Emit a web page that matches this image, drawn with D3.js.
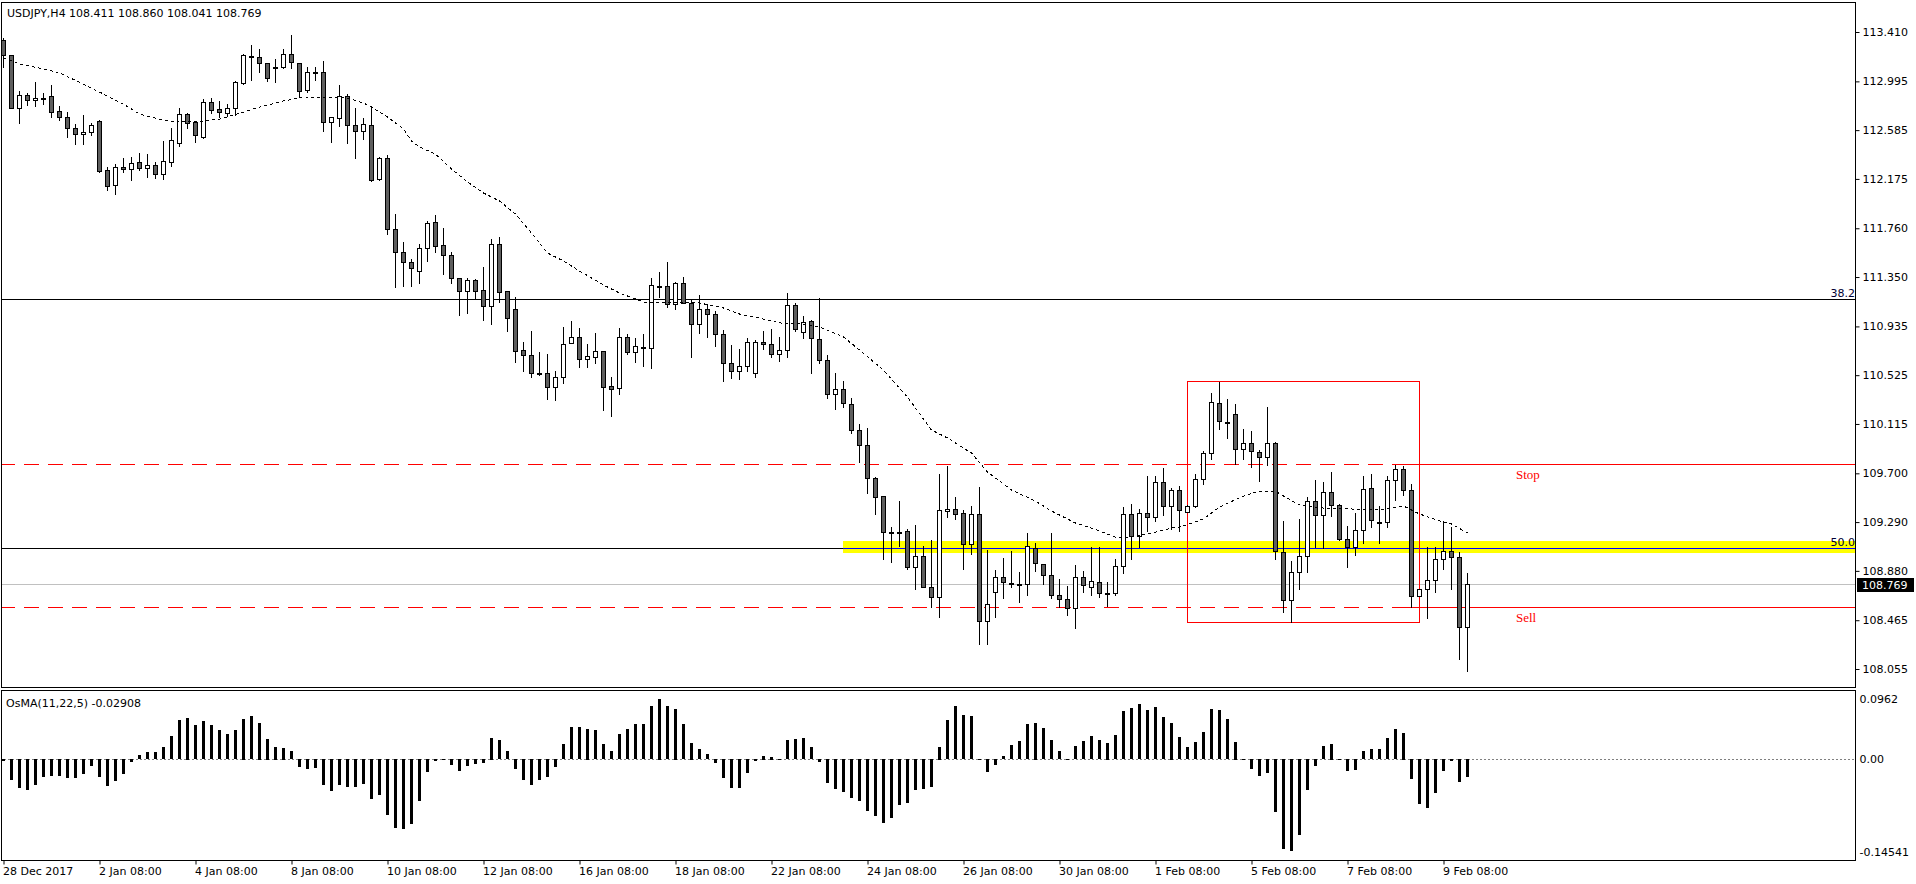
<!DOCTYPE html>
<html>
<head>
<meta charset="utf-8">
<script src="https://cdn.jsdelivr.net/npm/d3@7"></script>
<style>
  body { margin: 0; background: #fff; overflow: hidden; }
  text { font-family: "DejaVu Sans", sans-serif; font-size: 11px; fill: #000; }
</style>
</head>
<body>
<script>
// USDJPY H4 candles (open / high / low / close), 28 Dec 2017 .. 9 Feb 2018
var opens = [113.343,113.217,112.771,112.880,112.838,112.855,112.872,112.745,112.695,112.603,112.552,112.569,112.661,112.250,112.124,112.275,112.258,112.317,112.267,112.292,
112.216,112.317,112.477,112.720,112.653,112.527,112.821,112.762,112.729,112.771,112.981,113.208,113.200,113.149,113.116,113.116,113.225,113.149,112.922,113.074,
113.074,112.653,112.687,112.872,112.628,112.577,112.628,112.174,112.351,111.753,111.560,111.476,111.401,111.594,111.812,111.619,111.535,111.342,111.233,111.325,
111.241,111.107,111.627,111.233,111.081,110.737,110.695,110.543,110.543,110.425,110.509,110.796,110.846,110.661,110.678,110.729,110.434,110.417,110.846,110.720,
110.762,110.754,111.275,111.275,111.123,111.300,111.132,110.955,111.081,111.039,110.871,110.627,110.560,110.602,110.543,110.804,110.787,110.703,110.737,111.115,
110.888,110.981,110.829,110.652,110.366,110.409,110.282,110.064,109.938,109.661,109.510,109.206,109.207,109.215,108.912,109.005,108.744,108.660,109.383,109.400,
109.366,109.105,109.358,108.459,108.703,108.828,108.778,108.770,108.770,109.072,108.938,108.845,108.677,108.643,108.568,108.828,108.744,108.786,108.694,108.694,
108.921,109.358,109.173,109.366,109.333,109.627,109.425,109.559,109.375,109.425,109.652,109.870,110.291,110.131,110.198,109.904,109.955,109.879,109.837,109.955,
109.038,108.635,108.870,109.005,109.467,109.350,109.543,109.434,109.148,109.080,109.223,109.576,109.291,109.291,109.644,109.736,109.559,108.669,108.727,108.803,
108.980,109.047,108.997,108.411];
var highs = [113.360,113.217,112.914,112.897,112.990,112.897,112.964,112.788,112.737,112.636,112.712,112.645,112.670,112.275,112.300,112.351,112.359,112.393,112.384,112.317,
112.493,112.603,112.771,112.725,112.655,112.847,112.855,112.830,112.804,112.998,113.225,113.301,113.267,113.152,113.183,113.267,113.385,113.152,113.116,113.116,
113.166,112.697,112.964,112.889,112.771,112.687,112.779,112.359,112.376,111.879,111.644,111.501,111.627,111.821,111.871,111.762,111.560,111.345,111.342,111.334,
111.434,111.669,111.686,111.236,111.182,110.804,110.897,110.720,110.703,110.560,110.930,110.981,110.922,110.787,110.880,110.730,110.509,110.922,110.871,110.838,
110.871,111.342,111.392,111.476,111.308,111.350,111.157,111.199,111.123,111.065,110.905,110.779,110.745,110.838,110.821,110.897,110.914,110.846,111.216,111.132,
111.022,110.985,111.174,110.695,110.543,110.476,110.333,110.114,110.081,109.665,109.512,109.248,109.467,109.232,109.265,109.088,109.139,109.694,109.762,109.501,
109.392,109.425,109.585,109.055,108.887,108.988,109.046,108.870,109.198,109.114,108.940,109.198,108.811,108.753,108.929,108.879,109.080,109.080,108.786,108.980,
109.417,109.442,109.400,109.677,109.677,109.745,109.576,109.593,109.430,109.694,109.887,110.375,110.467,110.324,110.282,110.072,110.056,109.896,110.257,109.963,
109.299,108.963,109.316,109.501,109.644,109.627,109.711,109.440,109.257,109.366,109.677,109.694,109.425,109.677,109.770,109.762,109.610,108.730,109.080,109.080,
109.299,109.248,109.038,108.860];
var lows = [113.116,112.771,112.645,112.796,112.788,112.805,112.695,112.670,112.527,112.468,112.468,112.544,112.235,112.082,112.048,112.233,112.166,112.250,112.191,112.183,
112.174,112.283,112.451,112.603,112.485,112.519,112.729,112.695,112.704,112.712,112.973,113.006,113.074,112.998,112.990,113.107,113.107,112.863,112.905,113.006,
112.577,112.485,112.619,112.477,112.351,112.510,112.160,112.166,111.711,111.266,111.275,111.275,111.300,111.485,111.560,111.375,111.300,111.031,111.048,111.166,
110.989,110.955,111.140,110.897,110.635,110.560,110.509,110.526,110.324,110.316,110.459,110.792,110.594,110.594,110.627,110.232,110.182,110.366,110.703,110.635,
110.602,110.585,111.182,111.098,111.081,111.130,110.678,110.880,110.846,110.770,110.476,110.501,110.493,110.560,110.510,110.745,110.678,110.644,110.678,110.897,
110.838,110.543,110.627,110.333,110.240,110.257,110.039,109.795,109.534,109.358,108.979,108.954,109.088,108.896,108.727,108.743,108.576,108.492,109.333,109.316,
108.896,109.022,108.265,108.265,108.492,108.652,108.744,108.618,108.677,108.879,108.770,108.652,108.576,108.509,108.400,108.703,108.677,108.660,108.585,108.677,
108.862,108.980,109.080,109.215,109.299,109.350,109.232,109.215,109.372,109.417,109.610,109.820,110.072,109.997,109.778,109.820,109.753,109.635,109.770,108.980,
108.534,108.450,108.727,108.870,109.080,109.072,109.341,109.139,108.912,109.013,109.114,109.248,109.114,109.248,109.476,109.517,108.576,108.665,108.484,108.703,
108.896,108.727,108.139,108.041];
var closes = [113.217,112.771,112.880,112.838,112.855,112.853,112.737,112.695,112.603,112.552,112.569,112.628,112.241,112.115,112.275,112.258,112.309,112.267,112.292,112.216,
112.325,112.502,112.720,112.645,112.544,112.821,112.754,112.737,112.771,112.990,113.217,113.205,113.149,113.023,113.114,113.225,113.158,112.914,113.074,113.070,
112.653,112.695,112.872,112.628,112.577,112.636,112.166,112.351,111.753,111.560,111.476,111.426,111.594,111.804,111.611,111.535,111.342,111.233,111.325,111.233,
111.107,111.627,111.224,111.006,110.729,110.695,110.543,110.540,110.425,110.509,110.787,110.846,110.661,110.686,110.729,110.425,110.409,110.846,110.720,110.770,
110.760,111.283,111.272,111.123,111.300,111.132,110.955,111.081,111.039,110.871,110.627,110.560,110.602,110.804,110.804,110.787,110.703,110.737,111.115,110.914,
110.972,110.838,110.652,110.366,110.409,110.291,110.064,109.938,109.661,109.501,109.206,109.204,109.206,108.912,109.005,108.744,108.660,109.392,109.400,109.358,
109.105,109.358,108.459,108.601,108.828,108.786,108.776,108.768,109.088,108.946,108.845,108.677,108.643,108.568,108.828,108.761,108.795,108.694,108.692,108.921,
109.358,109.173,109.366,109.333,109.627,109.425,109.559,109.392,109.425,109.652,109.870,110.299,110.139,110.129,109.904,109.955,109.887,109.837,109.955,109.047,
108.635,108.870,109.005,109.467,109.350,109.543,109.434,109.148,109.080,109.223,109.568,109.307,109.289,109.644,109.736,109.559,108.669,108.727,108.803,108.980,
109.047,108.997,108.408,108.769];

// dotted moving average, read at these bar numbers
var maIdx = [0,2,5,7,10,12,15,17,20,22,25,27,30,32,35,37,38,41,43,45,46,47,48,50,51,52,54,56,58,60,62,64,66,68,70,72,75,77,80,82,85,87,90,92,95,97,100,102,105,107,
110,113,116,118,121,123,126,129,131,134,136,139,141,144,146,147,150,152,155,157,159,160,162,165,167,170,172,175,177,180,181,183];
var maVal = [113.192,113.141,113.099,113.066,112.972,112.905,112.804,112.720,112.670,112.653,112.661,112.678,112.737,112.779,112.830,112.855,112.863,112.863,112.855,112.813,
112.779,112.737,112.695,112.594,112.493,112.443,112.384,112.258,112.149,112.057,111.989,111.879,111.720,111.552,111.485,111.401,111.283,111.216,111.140,111.132,
111.140,111.132,111.090,111.039,110.997,110.964,110.955,110.930,110.846,110.737,110.568,110.341,110.064,109.997,109.870,109.711,109.559,109.467,109.383,109.282,
109.240,109.164,109.164,109.206,109.240,109.248,109.316,109.417,109.509,109.551,109.551,109.509,109.434,109.408,109.408,109.392,109.392,109.425,109.358,109.290,
109.274,109.198];

// OsMA(11,22,5) histogram, one value per bar
var osma = [-0.0024,-0.0338,-0.0453,-0.0495,-0.0417,-0.0291,-0.0269,-0.0269,-0.0300,-0.0300,-0.0244,-0.0112,-0.0291,-0.0432,-0.0347,-0.0233,-0.0049,0.0066,0.0118,0.0118,
0.0192,0.0365,0.0616,0.0659,0.0538,0.0600,0.0538,0.0459,0.0396,0.0459,0.0643,0.0679,0.0580,0.0329,0.0203,0.0187,0.0134,-0.0120,-0.0154,-0.0138,
-0.0417,-0.0511,-0.0417,-0.0442,-0.0448,-0.0390,-0.0637,-0.0574,-0.0877,-0.1097,-0.1108,-0.1030,-0.0668,-0.0206,-0.0024,0.0005,-0.0091,-0.0197,-0.0118,-0.0075,
-0.0064,0.0344,0.0302,0.0134,-0.0165,-0.0338,-0.0406,-0.0338,-0.0285,-0.0127,0.0239,0.0511,0.0511,0.0486,0.0459,0.0239,0.0134,0.0396,0.0475,0.0553,
0.0553,0.0841,0.0962,0.0841,0.0800,0.0553,0.0267,0.0160,0.0082,-0.0060,-0.0300,-0.0457,-0.0457,-0.0222,-0.0039,0.0061,0.0046,0.0005,0.0302,0.0318,
0.0333,0.0197,-0.0049,-0.0374,-0.0468,-0.0520,-0.0615,-0.0668,-0.0825,-0.0898,-0.1008,-0.0929,-0.0731,-0.0693,-0.0484,-0.0468,-0.0448,0.0203,0.0616,0.0841,
0.0695,0.0684,0.0010,-0.0206,-0.0091,0.0055,0.0223,0.0291,0.0553,0.0580,0.0490,0.0307,0.0134,0.0008,0.0212,0.0286,0.0369,0.0307,0.0266,0.0385,
0.0762,0.0810,0.0868,0.0778,0.0825,0.0668,0.0580,0.0354,0.0197,0.0275,0.0432,0.0789,0.0778,0.0632,0.0281,0.0008,-0.0165,-0.0275,-0.0228,-0.0835,
-0.1427,-0.14541,-0.1203,-0.0495,-0.0112,0.0212,0.0250,-0.0008,-0.0190,-0.0181,0.0134,0.0160,0.0160,0.0338,0.0475,0.0423,-0.0322,-0.0704,-0.0772,-0.0536,
-0.0190,-0.0033,-0.0363,-0.02908];

var timeLabels = ["28 Dec 2017","2 Jan 08:00","4 Jan 08:00","8 Jan 08:00","10 Jan 08:00","12 Jan 08:00","16 Jan 08:00","18 Jan 08:00",
  "22 Jan 08:00","24 Jan 08:00","26 Jan 08:00","30 Jan 08:00","1 Feb 08:00","5 Feb 08:00","7 Feb 08:00","9 Feb 08:00"];
var timeLabelIdx = [0,12,24,36,48,60,72,84,96,108,120,132,144,156,168,180];
var priceTicks = [113.410,112.995,112.585,112.175,111.760,111.350,110.935,110.525,110.115,109.700,109.290,108.880,108.465,108.055];
var osmaTicks = [0.0962, 0, -0.14541];
var osmaTickText = ["0.0962","0.00","-0.14541"];

// chart objects
var fibLevels = [{price: 111.166, label: "38.2"}, {price: 109.072, label: "50.0"}];
var stopPrice = 109.778, sellPrice = 108.576, bidPrice = 108.769;
var zoneTop = 109.131, zoneBottom = 109.030, zoneStart = 104.94;
var boxStart = 147.9, boxEnd = 176.9, boxHigh = 110.476, boxLow = 108.450;
var title = "USDJPY,H4  108.411 108.860 108.041 108.769";
var osmaTitle = "OsMA(11,22,5) -0.02908";

var W = 1916, H = 884;
var plotRight = 1855.5;
var mainTop = 2.5, mainBottom = 687.5, subTop = 690.5, subBottom = 860.5;

var svg = d3.select("body").append("svg")
  .attr("width", W).attr("height", H);

var x = d3.scaleLinear().domain([0, 183]).range([3.5, 3.5 + 8 * 183]);
var y = d3.scaleLinear().domain([108.055, 113.410]).range([669, 32]);
var yo = d3.scaleLinear().domain([-0.14541, 0.0962]).range([851.5, 698.5]);

svg.append("clipPath").attr("id", "mainClip")
  .append("rect").attr("x", 2).attr("y", 3).attr("width", plotRight - 2).attr("height", mainBottom - 3);
svg.append("clipPath").attr("id", "subClip")
  .append("rect").attr("x", 2).attr("y", subTop).attr("width", plotRight - 2).attr("height", subBottom - subTop);

var main = svg.append("g").attr("clip-path", "url(#mainClip)");

function py(v) { return Math.round(y(v)) + 0.5; }

// yellow zone + blue line
main.append("rect")
  .attr("x", x(zoneStart)).attr("y", y(zoneTop))
  .attr("width", 1916).attr("height", y(zoneBottom) - y(zoneTop))
  .attr("fill", "#ffff00");

// fibo lines
fibLevels.forEach(function(f) {
  main.append("line").attr("x1", 0).attr("x2", plotRight)
    .attr("y1", py(f.price)).attr("y2", py(f.price))
    .attr("stroke", "#000").attr("stroke-width", 1);
});
main.append("line").attr("x1", x(zoneStart)).attr("x2", plotRight)
  .attr("y1", py(fibLevels[1].price)).attr("y2", py(fibLevels[1].price))
  .attr("stroke", "#0000ff").attr("stroke-width", 1);

// bid line
main.append("line").attr("x1", 0).attr("x2", plotRight)
  .attr("y1", py(bidPrice)).attr("y2", py(bidPrice))
  .attr("stroke", "#c0c0c0");

// stop / sell lines
[stopPrice, sellPrice].forEach(function(p) {
  main.append("line").attr("x1", 0).attr("x2", plotRight)
    .attr("y1", py(p)).attr("y2", py(p))
    .attr("stroke", "#ff0000").attr("stroke-dasharray", "15,9");
  main.append("line").attr("x1", x(175.2)).attr("x2", plotRight)
    .attr("y1", py(p)).attr("y2", py(p))
    .attr("stroke", "#ff0000");
});

// red box
main.append("rect")
  .attr("x", Math.round(x(boxStart)) + 0.5).attr("y", py(boxHigh))
  .attr("width", Math.round(x(boxEnd) - x(boxStart))).attr("height", Math.round(y(boxLow) - y(boxHigh)))
  .attr("fill", "none").attr("stroke", "#ff0000");

// candles
var bars = opens.map(function(o, i) {
  return {i: i, o: o, h: highs[i], l: lows[i], c: closes[i]};
});

main.selectAll(".wick").data(bars).enter().append("line")
  .attr("class", "wick")
  .attr("x1", function(d) { return x(d.i); })
  .attr("x2", function(d) { return x(d.i); })
  .attr("y1", function(d) { return Math.round(y(d.h)); })
  .attr("y2", function(d) { return Math.round(y(d.l)) + 1; })
  .attr("stroke", "#000");

main.selectAll(".body").data(bars).enter().append("rect")
  .attr("class", "body")
  .attr("x", function(d) { return x(d.i) - 2; })
  .attr("width", 4)
  .attr("y", function(d) { return py(Math.max(d.o, d.c)); })
  .attr("height", function(d) { return Math.max(1, Math.round(y(Math.min(d.o, d.c))) - Math.round(y(Math.max(d.o, d.c)))); })
  .attr("fill", function(d) { return d.c >= d.o ? "#fff" : "#5e5e5e"; })
  .attr("stroke", "#000");

// moving average
var maLine = d3.line()
  .x(function(d, i) { return x(maIdx[i]); })
  .y(function(d) { return y(d); });
main.append("path").datum(maVal)
  .attr("d", maLine)
  .attr("fill", "none").attr("stroke", "#000").attr("stroke-width", 1)
  .attr("stroke-dasharray", "3,3")
  .attr("shape-rendering", "crispEdges");

// texts on chart
svg.append("text").attr("x", 7).attr("y", 17).text(title);
fibLevels.forEach(function(f) {
  svg.append("text").attr("x", 1855).attr("y", py(f.price) - 3)
    .attr("text-anchor", "end").style("fill", "#000033").text(f.label);
});
svg.append("text").attr("x", 1516).attr("y", py(stopPrice) + 14)
  .style("font-family", "'Liberation Serif', serif").style("font-size", "13px").style("fill", "#ff0000").text("Stop");
svg.append("text").attr("x", 1516).attr("y", py(sellPrice) + 14)
  .style("font-family", "'Liberation Serif', serif").style("font-size", "13px").style("fill", "#ff0000").text("Sell");

// panel frames
svg.append("rect").attr("x", 1.5).attr("y", mainTop).attr("width", plotRight - 1.5).attr("height", mainBottom - mainTop)
  .attr("fill", "none").attr("stroke", "#000");
svg.append("rect").attr("x", 1.5).attr("y", subTop).attr("width", plotRight - 1.5).attr("height", subBottom - subTop)
  .attr("fill", "none").attr("stroke", "#000");

// price axis
var yAxis = d3.axisRight(y).tickValues(priceTicks).tickFormat(d3.format(".3f")).tickSize(4).tickPadding(3);
var ya = svg.append("g").attr("transform", "translate(" + plotRight + ",0)").call(yAxis);
ya.select(".domain").remove();
ya.selectAll("text").style("font-family", "'DejaVu Sans', sans-serif").style("font-size", "11px");

// bid price label
svg.append("rect").attr("x", 1857).attr("y", Math.round(y(bidPrice)) - 6).attr("width", 57).attr("height", 14).attr("fill", "#000");
svg.append("text").attr("x", 1862).attr("y", Math.round(y(bidPrice)) + 5).style("fill", "#fff").text(bidPrice.toFixed(3));

// OsMA panel
var sub = svg.append("g").attr("clip-path", "url(#subClip)");
sub.append("line").attr("x1", 0).attr("x2", plotRight)
  .attr("y1", Math.round(yo(0)) + 0.5).attr("y2", Math.round(yo(0)) + 0.5)
  .attr("stroke", "#808080").attr("stroke-dasharray", "2,2");
sub.selectAll(".osma").data(osma).enter().append("rect")
  .attr("class", "osma")
  .attr("x", function(d, i) { return x(i) - 1.5; })
  .attr("width", 3)
  .attr("y", function(d) { return Math.round(Math.min(yo(d), yo(0))); })
  .attr("height", function(d) { return Math.max(1, Math.round(Math.abs(yo(d) - yo(0)))); })
  .attr("fill", "#000");
svg.append("text").attr("x", 6).attr("y", 707).text(osmaTitle);

var oAxis = d3.axisRight(yo).tickValues(osmaTicks).tickFormat(function(d, i) { return osmaTickText[i]; }).tickSize(0).tickPadding(4);
var oa = svg.append("g").attr("transform", "translate(" + plotRight + ",0)").call(oAxis);
oa.select(".domain").remove();
oa.selectAll("text").style("font-family", "'DejaVu Sans', sans-serif").style("font-size", "11px");

// time axis
var xAxis = d3.axisBottom(x).tickValues(timeLabelIdx)
  .tickFormat(function(d, i) { return timeLabels[i]; }).tickSize(4).tickPadding(3);
var xa = svg.append("g").attr("transform", "translate(0," + subBottom + ")").call(xAxis);
xa.select(".domain").remove();
xa.selectAll("text").attr("text-anchor", "start").attr("x", -1)
  .style("font-family", "'DejaVu Sans', sans-serif").style("font-size", "11px");
</script>
</body>
</html>
